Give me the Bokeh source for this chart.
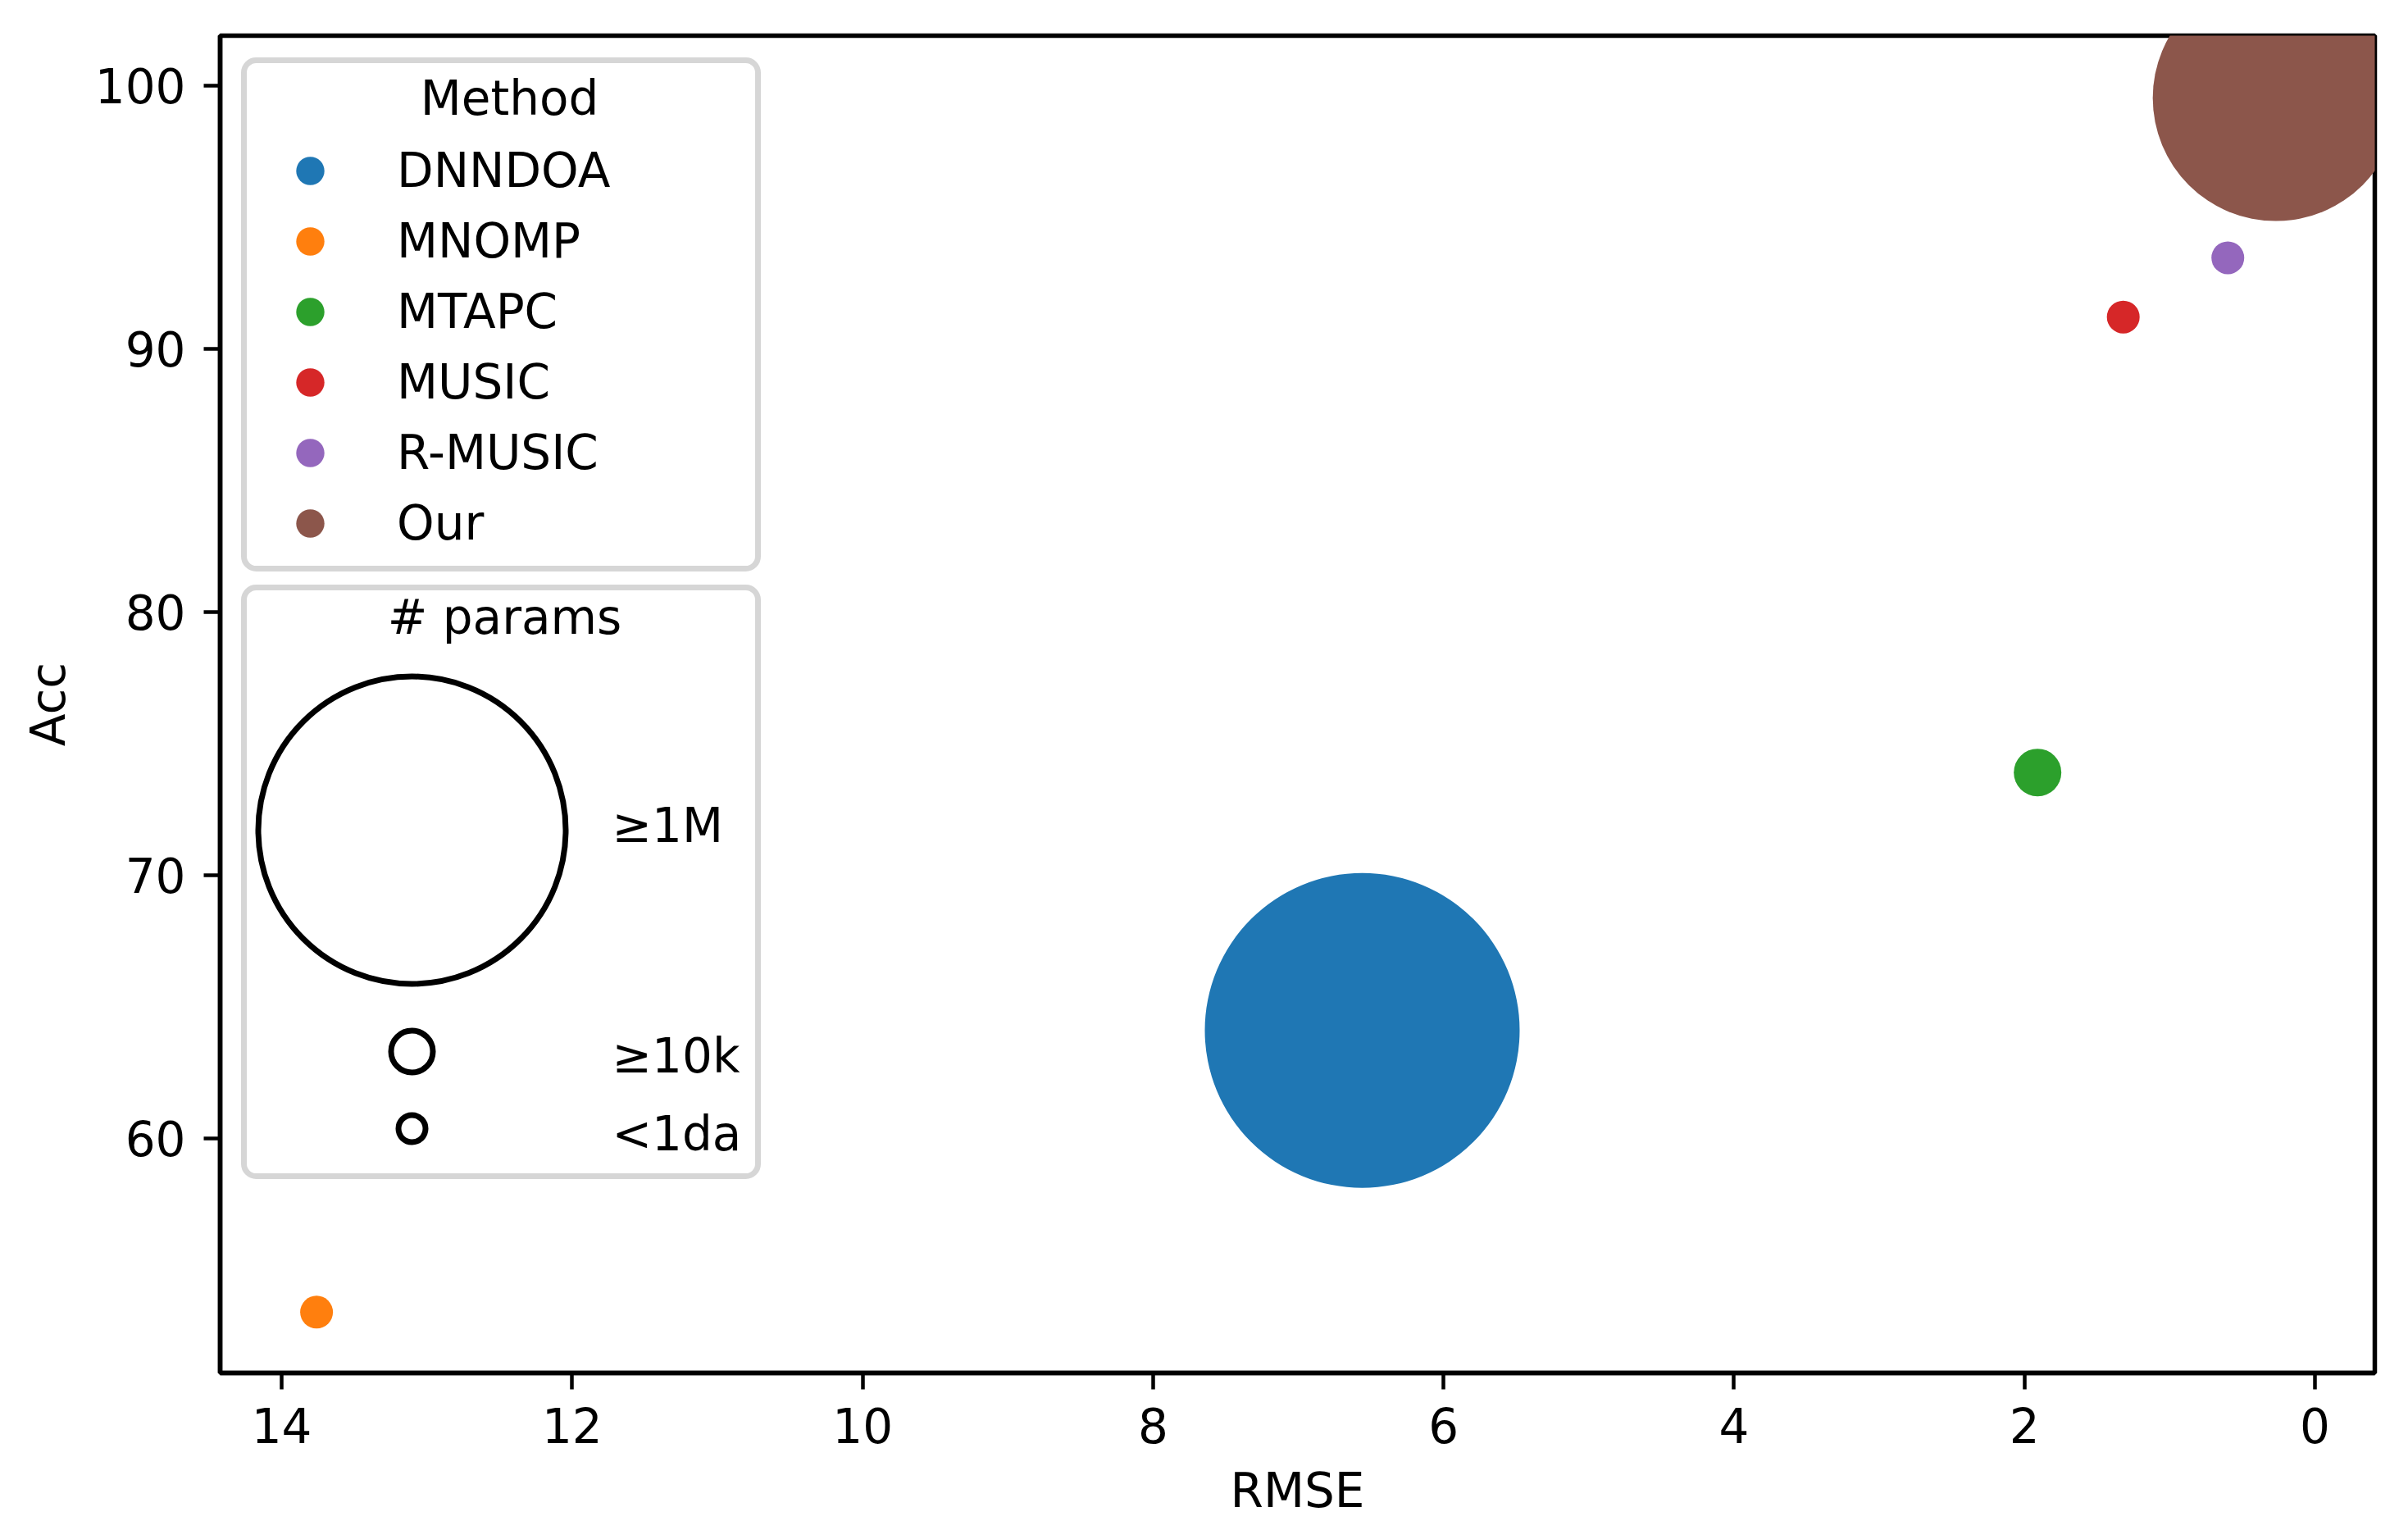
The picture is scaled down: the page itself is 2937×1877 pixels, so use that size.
from bokeh.plotting import figure
from bokeh.models import (Range1d, FixedTicker, Legend, LegendItem, BoxAnnotation,
                          Label, ColumnDataSource)
from bokeh.embed import file_html
from bokeh.resources import INLINE

# ---------------- data ----------------
methods = ["DNNDOA", "MNOMP", "MTAPC", "MUSIC", "R-MUSIC", "Our"]
rmse = [6.56, 13.76, 1.91, 1.32, 0.60, 0.27]
acc = [64.1, 53.4, 73.9, 91.2, 93.45, 99.52]
bubble_size = [384, 40, 58, 40, 40, 300]          # bubble diameter (# params encoding)
colors = ["#1f77b4", "#ff7f0e", "#2ca02c", "#d62728", "#9467bd", "#8c564b"]
x_ticks = [0, 2, 4, 6, 8, 10, 12, 14]
y_ticks = [60, 70, 80, 90, 100]
size_labels = ["≥1M", "≥10k", "<1da"]
size_handles = [375, 51, 33]

# ---------------- layout constants (page pixels) ----------------
FONT = "DejaVu Sans"
FS = "58px"
FL, FT, FW, FH = 268, 43, 2628, 1631
X_START, X_END = 14.424, -0.412
Y_START, Y_END = 51.09, 101.89
TXT_SHIFT = 23   # empirical baseline correction for Label text


def dx(px):
    return X_START + (px - FL) / FW * (X_END - X_START)


def dy(py):
    return Y_END - (py - FT) / FH * (Y_END - Y_START)


p = figure(frame_width=FW, frame_height=FH,
           min_border_left=FL, min_border_top=FT,
           min_border_right=25, min_border_bottom=190,
           x_range=Range1d(X_START, X_END), y_range=Range1d(Y_START, Y_END),
           output_backend="svg", toolbar_location=None)
p.background_fill_color = "white"
p.border_fill_color = "white"
p.outline_line_color = "black"
p.outline_line_width = 5.5
p.xgrid.visible = False
p.ygrid.visible = False

for ax, ticks in ((p.xaxis, x_ticks), (p.yaxis, y_ticks)):
    ax.ticker = FixedTicker(ticks=ticks)
    ax.axis_line_width = 5.5
    ax.axis_line_color = "black"
    ax.major_tick_line_width = 4.5
    ax.major_tick_line_color = "black"
    ax.major_tick_out = 20
    ax.major_tick_in = 0
    ax.minor_tick_out = 0
    ax.minor_tick_in = 0
    ax.major_label_text_font = FONT
    ax.major_label_text_font_size = FS
    ax.major_label_text_color = "black"
    ax.axis_label_text_font = FONT
    ax.axis_label_text_font_size = FS
    ax.axis_label_text_font_style = "normal"
    ax.axis_label_text_color = "black"

p.xaxis.axis_label = "RMSE"
p.yaxis.axis_label = "Acc"
p.xaxis.major_label_standoff = 22
p.yaxis.major_label_standoff = 22
p.xaxis.axis_label_standoff = 21
p.yaxis.axis_label_standoff = 20

src = ColumnDataSource(dict(x=rmse, y=acc, size=bubble_size, color=colors, method=methods))
r = p.scatter("x", "y", size="size", fill_color="color", line_color=None, source=src)

# ---------------- legend frames ----------------
def make_box(top, bottom):
    kw = dict(left=dx(297), right=dx(924), top=dy(top), bottom=dy(bottom),
              fill_color="white", fill_alpha=0.8, line_color="#d6d6d6",
              line_alpha=1.0, line_width=7)
    try:
        return BoxAnnotation(border_radius=15, **kw)
    except Exception:
        return BoxAnnotation(**kw)

p.add_layout(make_box(73, 693))
p.add_layout(make_box(716, 1434))

# ---------------- Method legend ----------------
items = [LegendItem(label=m, renderers=[r], index=i) for i, m in enumerate(methods)]
legend = Legend(items=items, location="top_left", margin=29, padding=7, spacing=0,
                glyph_height=86, glyph_width=148, label_standoff=32, label_width=433,
                label_height=20, title=" ", title_text_font=FONT, title_text_font_size=FS,
                title_standoff=18, label_text_font=FONT, label_text_font_size=FS,
                label_text_color="black", border_line_alpha=0, background_fill_alpha=0)
p.add_layout(legend)


def text_label(x_px, base_px, text, align):
    return Label(x=dx(x_px), y=dy(base_px - TXT_SHIFT), text=text, text_align=align,
                 text_baseline="alphabetic", text_font=FONT, text_font_size=FS,
                 text_color="black")


p.add_layout(text_label(621, 142, "Method", "center"))

# ---------------- # params legend ----------------
p.add_layout(text_label(615, 775, "# params", "center"))
hy = [1012, 1282, 1376]
lab_base = [1029, 1310, 1405]
hs = p.scatter(x=[dx(502)] * 3, y=[dy(v) for v in hy], size=size_handles,
               fill_color=None, line_color="black", line_width=7)
hs.level = "overlay"
for t, b in zip(size_labels, lab_base):
    p.add_layout(text_label(746, b, t, "left"))

open("out.html", "w").write(file_html(p, INLINE))
